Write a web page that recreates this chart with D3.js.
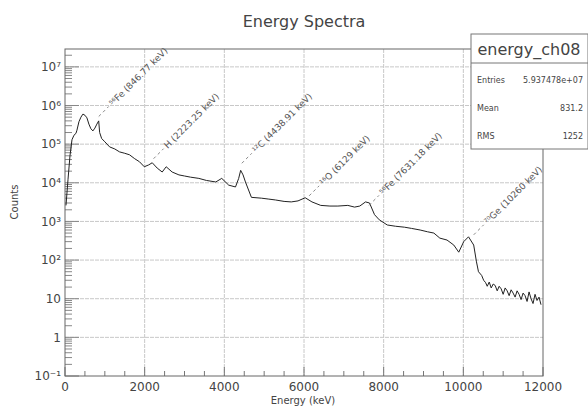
<!DOCTYPE html>
<html>
<head>
<meta charset="utf-8">
<script src="https://cdn.jsdelivr.net/npm/d3@7"></script>
<style>
  body { margin: 0; background: #fff; }
  text { font-family: "DejaVu Sans", sans-serif; fill: #444; }
</style>
</head>
<body>
<div id="chart"></div>
<script>
// spectrum (energy in keV, counts per bin)
var energy = [25,75,125,175,225,275,300,350,400,450,500,550,600,650,700,750,800,846,870,920,
  1000,1120,1250,1370,1500,1620,1750,1870,1990,2100,2190,2315,2440,2540,2690,2860,3000,3150,3360,3550,
  3785,3935,4110,4280,4360,4410,4470,4530,4680,4930,5100,5280,5500,5680,5850,6030,6200,6420,6650,6850,
  7100,7270,7400,7545,7645,7770,7890,8090,8300,8520,8700,8915,9100,9260,9410,9590,9760,9885,10010,10130,
  10260,10330,10380,10460,10510,10560,10600,10650,10700,10750,10800,10850,10900,10950,11000,11050,11100,
  11150,11200,11250,11300,11350,11400,11450,11500,11550,11600,11650,11700,11750,11800,11850,11900,11950];
var counts = [2600,12000,50000,130000,170000,190000,230000,380000,500000,600000,560000,480000,330000,250000,220000,260000,330000,400000,200000,140000,
  115000,85000,75000,63000,58000,53000,42000,35000,26000,29000,33000,24000,19000,26000,19000,16000,15000,14000,13000,11500,
  10500,13000,8700,7800,13000,21000,16000,10500,4200,4000,3800,3600,3300,3200,3400,4100,3200,2600,2500,2500,
  2600,2350,2500,3200,3000,1500,1100,810,750,710,660,600,540,500,370,330,245,160,300,400,
  245,90,50,40,30,26,21,27,19,24,22,16,21,18,13,19,16,
  12,17,14,11,16,13,9.5,14,12,8.5,15,10,7.5,13,9,11,7];

// line annotations: label, energy, count where the dashed marker starts
var peakLabels = ["\u2075\u2076Fe (846.77 keV)", "H (2223.25 keV)", "\u00b9\u00b2C (4438.91 keV)",
  "\u00b9\u2076O (6129 keV)", "\u2075\u2076Fe (7631.18 keV)", "\u2077\u2070Ge (10260 keV)"];
var peakEnergy = [846.77, 2223.25, 4438.91, 6129, 7631.18, 10260];
var peakCount = [520000, 42000, 32000, 4600, 2600, 450];

var xTicks = [0, 2000, 4000, 6000, 8000, 10000, 12000];
var yTicks = [1e7, 1e6, 1e5, 1e4, 1e3, 1e2, 10, 1, 0.1];
var yTickLabels = ["10\u2077", "10\u2076", "10\u2075", "10\u2074", "10\u00b3", "10\u00b2", "10", "1", "10\u207b\u00b9"];

var statNames = ["Entries", "Mean", "RMS"];
var statValues = ["5.937478e+07", "831.2", "1252"];

var W = 588, H = 407;
var margin = {top: 49, right: 45, bottom: 31, left: 65},
    width = W - margin.left - margin.right,
    height = H - margin.top - margin.bottom;

var svg = d3.select("#chart").append("svg")
    .attr("width", W)
    .attr("height", H);

var g = svg.append("g")
    .attr("transform", "translate(" + margin.left + "," + margin.top + ")");

var x = d3.scaleLinear().domain([0, 12000]).range([0, width]);
var y = d3.scaleLog().domain([0.1, 2.9e7]).range([height, 0]);

// grid
g.selectAll(".xgrid").data(xTicks.slice(1, -1)).enter().append("line")
    .attr("x1", function(d) { return x(d); }).attr("x2", function(d) { return x(d); })
    .attr("y1", 0).attr("y2", height)
    .attr("stroke", "#c8c8c8").attr("stroke-dasharray", "4,1");
g.selectAll(".ygrid").data(yTicks.slice(0, -1)).enter().append("line")
    .attr("x1", 0).attr("x2", width)
    .attr("y1", function(d) { return y(d); }).attr("y2", function(d) { return y(d); })
    .attr("stroke", "#c8c8c8").attr("stroke-dasharray", "4,1");

// x axis ticks (inside)
var xMinor = d3.range(0, 12001, 500);
g.selectAll(".xminor").data(xMinor).enter().append("line")
    .attr("x1", function(d) { return x(d); }).attr("x2", function(d) { return x(d); })
    .attr("y1", height)
    .attr("y2", function(d) { return height - (d % 2000 === 0 ? 9 : 5); })
    .attr("stroke", "#777");
g.selectAll(".xlab").data(xTicks).enter().append("text")
    .attr("x", function(d) { return x(d); })
    .attr("y", height + 15)
    .attr("text-anchor", "middle")
    .style("font-size", "12px")
    .text(function(d) { return d; });

// y axis ticks (inside)
var yMinor = [];
for (var p = -1; p < 8; p++) {
  for (var m = 1; m < 10; m++) {
    var v = m * Math.pow(10, p);
    if (v <= 2.9e7) yMinor.push(v);
  }
}
g.selectAll(".yminor").data(yMinor).enter().append("line")
    .attr("x1", 0)
    .attr("x2", function(d) { return Math.abs(Math.log10(d) - Math.round(Math.log10(d))) < 1e-9 ? 14 : 7; })
    .attr("y1", function(d) { return y(d); }).attr("y2", function(d) { return y(d); })
    .attr("stroke", "#888");
g.selectAll(".ylab").data(yTicks).enter().append("text")
    .attr("x", -4)
    .attr("y", function(d) { return y(d); })
    .attr("dy", "0.35em")
    .attr("text-anchor", "end")
    .style("font-size", "12px")
    .text(function(d, i) { return yTickLabels[i]; });

// frame
g.append("rect")
    .attr("width", width).attr("height", height)
    .attr("fill", "none").attr("stroke", "#666");

// spectrum
var pts = energy.map(function(e, i) { return [e, counts[i]]; });
g.append("path")
    .datum(pts)
    .attr("fill", "none")
    .attr("stroke", "#222")
    .attr("stroke-width", 1)
    .attr("d", d3.line()
      .x(function(d) { return x(d[0]); })
      .y(function(d) { return y(d[1]); }));

// peak annotations
var ann = g.selectAll(".ann").data(peakLabels).enter().append("g")
    .attr("transform", function(d, i) {
      return "translate(" + x(peakEnergy[i]) + "," + y(peakCount[i]) + ")";
    });
ann.append("line")
    .attr("x1", 0).attr("y1", 0).attr("x2", 10).attr("y2", -10)
    .attr("stroke", "#888").attr("stroke-dasharray", "3,3");
ann.append("text")
    .attr("transform", "translate(12,-12) rotate(-45)")
    .attr("dy", "0.35em")
    .style("font-size", "9px")
    .style("fill", "#555")
    .text(function(d) { return d; });

// titles
svg.append("text")
    .attr("x", 304).attr("y", 27)
    .attr("text-anchor", "middle")
    .style("font-size", "16px")
    .text("Energy Spectra");
svg.append("text")
    .attr("x", 303).attr("y", 404)
    .attr("text-anchor", "middle")
    .style("font-size", "10px")
    .text("Energy (keV)");
svg.append("text")
    .attr("transform", "translate(18,202) rotate(-90)")
    .attr("text-anchor", "middle")
    .style("font-size", "10px")
    .text("Counts");

// stats box
var sb = svg.append("g").attr("transform", "translate(471,34)");
sb.append("rect")
    .attr("width", 117).attr("height", 115)
    .attr("fill", "#fff").attr("stroke", "#777");
sb.append("line")
    .attr("x1", 0).attr("x2", 117).attr("y1", 29).attr("y2", 29)
    .attr("stroke", "#777");
sb.append("text")
    .attr("x", 58).attr("y", 21)
    .attr("text-anchor", "middle")
    .style("font-size", "16px")
    .text("energy_ch08");
sb.selectAll(".sname").data(statNames).enter().append("text")
    .attr("x", 6)
    .attr("y", function(d, i) { return 49 + i * 28; })
    .style("font-size", "8px")
    .text(function(d) { return d; });
sb.selectAll(".sval").data(statValues).enter().append("text")
    .attr("x", 112)
    .attr("y", function(d, i) { return 49 + i * 28; })
    .attr("text-anchor", "end")
    .style("font-size", "8px")
    .text(function(d) { return d; });
</script>
</body>
</html>
